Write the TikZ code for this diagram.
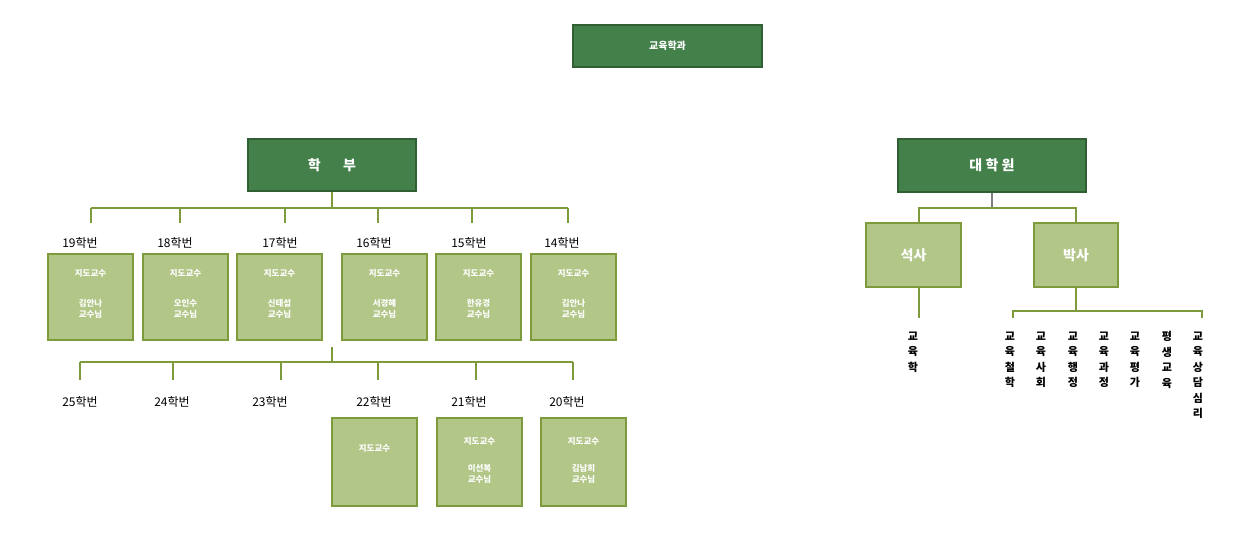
\documentclass[tikz,border=0pt]{standalone}
\usepackage{fontspec}
\setmainfont{Noto Sans CJK KR}
\definecolor{dk}{HTML}{43804A}
\definecolor{dkb}{HTML}{2F5F33}
\definecolor{lt}{HTML}{B1C687}
\definecolor{ltb}{HTML}{7E9B3B}
\definecolor{ln}{HTML}{7E9B3B}
\begin{document}
\begin{tikzpicture}[x=1pt,y=-1pt,
 dbox/.style={draw=dkb,line width=1.5pt,fill=dk,text=white,font=\bfseries},
 lbox/.style={draw=ltb,line width=1.5pt,fill=lt,text=white,font=\bfseries\fontsize{8.5}{10}\selectfont,align=center},
 tx/.style={text=white,font=\bfseries\fontsize{8.5}{11}\selectfont,align=center},
 ln/.style={draw=ln,line width=1.6pt},
 yr/.style={font=\fontsize{12}{14}\selectfont},
 vt/.style={font=\bfseries\fontsize{11}{15.5}\selectfont,align=center,anchor=north}]
\useasboundingbox (0,0) rectangle (1243,540);
\node[dbox,font=\bfseries\fontsize{10}{12}\selectfont,minimum width=189pt,minimum height=42pt] (top) at (667.5,46) {교육학과};
\node[dbox,font=\bfseries\fontsize{14}{16}\selectfont,minimum width=168pt,minimum height=52pt] (hb) at (332,165) {학\hspace{1.6em}부};
\node[dbox,font=\bfseries\fontsize{14}{16}\selectfont,minimum width=188pt,minimum height=53pt] (dh) at (992,165.5) {대 학 원};
% row 1
\foreach \n/\bx/\dx/\lx/\yy/\nm in {a/90.5/91/80/19/김안나,b/185.5/180/175/18/오인수,c/279.5/285/280/17/신태섭,d/384.5/378/374/16/서경혜,e/478.5/472/469/15/한유경,f/573.5/568/562/14/김안나}{
 \node[lbox,minimum width=85pt,minimum height=86pt] (r\n) at (\bx,297) {};
 \node[tx] (t\n) at (\bx,273) {지도교수};
 \node[tx] (m\n) at (\bx,309) {\nm{}\\교수님};
 \node[yr] (y\n) at (\lx,243) {\yy{}학번};
 \coordinate (p\n) at (\dx,223);
 \draw[ln] (p\n) -- (\dx,208);
}
\coordinate (hj) at (332,208);
\draw[ln] (hb.south) -- (hj);
\draw[ln] (pa|-hj) -- (pf|-hj);
% row 2
\coordinate (s2) at (332,347);
\coordinate (j2) at (332,362);
\draw[ln] (s2) -- (j2);
\foreach \n/\dx/\lx/\yy in {g/80/80/25,h/173/172/24,i/281/270/23,j/378/374/22,k/476/469/21,l/573/567/20}{
 \node[yr] (y\n) at (\lx,402) {\yy{}학번};
 \coordinate (q\n) at (\dx,380);
 \draw[ln] (q\n) -- (\dx,362);
}
\draw[ln] (qg|-j2) -- (ql|-j2);
\node[lbox,minimum width=85pt,minimum height=88pt] (bj) at (374.5,462) {};
\node[tx] (tj) at (374.5,448) {지도교수};
\node[lbox,minimum width=85pt,minimum height=88pt] (bk) at (479.5,462) {};
\node[tx] (tk) at (479.5,441) {지도교수};
\node[tx] (mk) at (479.5,474) {이선복\\교수님};
\node[lbox,minimum width=85pt,minimum height=88pt] (bl) at (583.5,462) {};
\node[tx] (tl) at (583.5,441) {지도교수};
\node[tx] (ml) at (583.5,474) {김남희\\교수님};
% grad
\node[lbox,font=\bfseries\fontsize{14}{16}\selectfont,minimum width=95pt,minimum height=64pt] (ms) at (913.5,255) {석사};
\node[lbox,font=\bfseries\fontsize{14}{16}\selectfont,minimum width=84pt,minimum height=64pt] (phd) at (1076,255) {박사};
\coordinate (gj) at (992,208);
\draw[ln,draw=gray] (dh.south) -- (gj);
\draw[ln] (919,223) -- (919,208) -- (1076,208) -- (phd.north);
\coordinate (me) at (919,318);
\draw[ln] (919,287) -- (me);
\coordinate (pj) at (1076,311);
\draw[ln] (phd.south) -- (pj);
\draw[ln] (1013,318) -- (1013,311) -- (1202,311) -- (1202,318);
\node[vt] (v0) at (913,328) {교\\육\\학};
\foreach \x/\t in {1010/교\\육\\철\\학,1041/교\\육\\사\\회,1073/교\\육\\행\\정,1104/교\\육\\과\\정,1135/교\\육\\평\\가,1167/평\\생\\교\\육,1198/교\\육\\상\\담\\심\\리}
 \node[vt] at (\x,328) {\t};
\end{tikzpicture}
\end{document}
